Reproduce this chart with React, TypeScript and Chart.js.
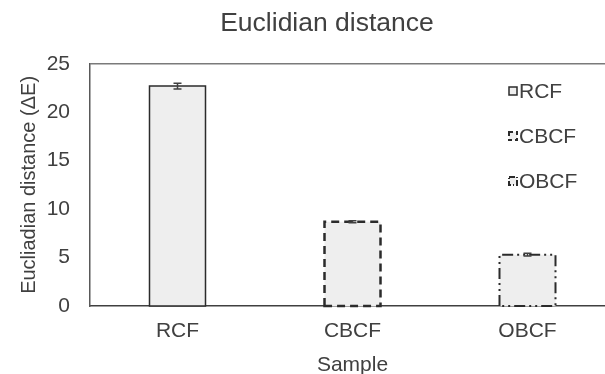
import React, { useEffect, useRef } from "react";
import { Chart, registerables } from "chart.js";

Chart.register(...registerables);

const categories = ["RCF", "CBCF", "OBCF"];
const seriesNames = ["RCF", "CBCF", "OBCF"];
const meanValues = [22.7, 8.7, 5.3];
const errorValues = [0.3, 0.1, 0.15];
const yTicks = [0, 5, 10, 15, 20, 25];

const titleText = "Euclidian distance";
const xTitle = "Sample";
const yTitle = "Eucliadian distance (ΔE)";

const FILL = "#eeeeee";
const EDGE = "#2b2b2b";
const TEXT = "#404040";
const FONT = "'Liberation Sans', Arial, sans-serif";

const borderStyles = [
  { dash: [] as number[], width: 1.5 },
  { dash: [8, 5], width: 2.5 },
  { dash: [11, 4, 2, 4, 2, 4], width: 2 },
];

const barFramePlugin = {
  id: "barFrame",
  beforeDatasetsDraw(chart: any) {
    const { ctx, chartArea } = chart;
    ctx.save();
    ctx.strokeStyle = "#7a7a7a";
    ctx.lineWidth = 1.5;
    ctx.beginPath();
    ctx.moveTo(chartArea.left, chartArea.top);
    ctx.lineTo(chartArea.right, chartArea.top);
    ctx.lineTo(chartArea.right, chartArea.bottom);
    ctx.stroke();
    ctx.restore();
  },
  afterDatasetsDraw(chart: any) {
    const { ctx } = chart;
    const yScale = chart.scales.y;
    chart.data.datasets.forEach((ds: any, i: number) => {
      const meta = chart.getDatasetMeta(i);
      meta.data.forEach((el: any, j: number) => {
        const v = ds.data[j];
        if (v === null || v === undefined) return;
        const { x, y, base, width } = el.getProps(["x", "y", "base", "width"], true);
        const st = borderStyles[i];
        ctx.save();
        ctx.strokeStyle = EDGE;
        ctx.lineWidth = st.width;
        ctx.setLineDash(st.dash);
        ctx.beginPath();
        ctx.moveTo(x - width / 2, base);
        ctx.lineTo(x - width / 2, y);
        ctx.lineTo(x + width / 2, y);
        ctx.lineTo(x + width / 2, base);
        ctx.closePath();
        ctx.stroke();
        ctx.restore();
        // error bar
        const err = errorValues[j];
        const yTop = yScale.getPixelForValue(v + err);
        const yBot = yScale.getPixelForValue(v - err);
        ctx.save();
        ctx.strokeStyle = "#404040";
        ctx.lineWidth = 1.5;
        ctx.beginPath();
        ctx.moveTo(x, yTop);
        ctx.lineTo(x, yBot);
        ctx.moveTo(x - 4, yTop);
        ctx.lineTo(x + 4, yTop);
        ctx.moveTo(x - 4, yBot);
        ctx.lineTo(x + 4, yBot);
        ctx.stroke();
        ctx.restore();
      });
    });
  },
  afterDraw(chart: any) {
    const { ctx } = chart;
    const bx = 509;
    const ys = [91, 136, 181];
    ctx.save();
    ctx.font = `21px ${FONT}`;
    ctx.textBaseline = "middle";
    ctx.textAlign = "left";
    seriesNames.forEach((name, i) => {
      const y = ys[i];
      const st = borderStyles[i];
      ctx.fillStyle = FILL;
      ctx.fillRect(bx, y - 4, 8, 8);
      ctx.strokeStyle = EDGE;
      ctx.lineWidth = Math.min(st.width, 2);
      ctx.setLineDash(i === 0 ? [] : i === 1 ? [4, 3] : [6, 2, 1, 2]);
      ctx.strokeRect(bx, y - 4, 8, 8);
      ctx.setLineDash([]);
      ctx.fillStyle = TEXT;
      ctx.fillText(name, bx + 10, y + 1);
    });
    ctx.restore();
  },
};

export default function App() {
  const canvasRef = useRef<HTMLCanvasElement | null>(null);

  useEffect(() => {
    document.body.style.margin = "0";
    document.body.style.overflow = "hidden";
    const canvas = canvasRef.current;
    if (!canvas) return;
    const datasets = seriesNames.map((name, i) => ({
      label: name,
      data: categories.map((_, j) => (j === i ? meanValues[j] : null)),
      backgroundColor: FILL,
      borderWidth: 0,
      categoryPercentage: 1,
      barPercentage: 0.32,
    }));
    const chart = new Chart(canvas, {
      type: "bar",
      data: { labels: categories, datasets },
      plugins: [barFramePlugin],
      options: {
        responsive: false,
        animation: false,
        devicePixelRatio: 1,
        skipNull: true,
        layout: { padding: 0 },
        plugins: {
          legend: { display: false },
          tooltip: { enabled: false },
          title: {
            display: true,
            text: titleText,
            color: TEXT,
            font: { family: FONT, size: 26.5, weight: "normal", lineHeight: 1.2 },
            padding: { top: 7.5, bottom: 24.5 },
          },
        },
        scales: {
          x: {
            grid: { display: false, drawTicks: false },
            border: { display: true, color: "#404040", width: 1.5 },
            ticks: { color: TEXT, font: { family: FONT, size: 21 }, padding: 13 },
            title: {
              display: true,
              text: xTitle,
              color: TEXT,
              font: { family: FONT, size: 21 },
              padding: { top: 0, bottom: 2.5 },
            },
            afterFit: (s: any) => {
              s.height = 74;
            },
          },
          y: {
            min: 0,
            max: 25,
            grid: { display: false, drawTicks: false },
            border: { display: true, color: "#595959", width: 1.5 },
            afterBuildTicks: (s: any) => {
              s.ticks = yTicks.map((v) => ({ value: v }));
            },
            ticks: { color: TEXT, font: { family: FONT, size: 21 }, padding: 20 },
            title: {
              display: true,
              text: yTitle,
              color: TEXT,
              font: { family: FONT, size: 20 },
              padding: { top: 17, bottom: 0 },
            },
            afterFit: (s: any) => {
              s.width = 90;
            },
          },
          yR: {
            position: "right",
            display: true,
            grid: { display: false, drawTicks: false },
            border: { display: false },
            ticks: { display: false },
            afterFit: (s: any) => {
              s.width = 39;
            },
          },
        },
      } as any,
    });
    return () => chart.destroy();
  }, []);

  return (
    <div style={{ position: "fixed", left: 0, top: 0, width: 605, height: 374, overflow: "hidden", background: "#fff" }}>
      <canvas ref={canvasRef} width={654} height={380} style={{ display: "block", width: 654, height: 380 }} />
    </div>
  );
}
